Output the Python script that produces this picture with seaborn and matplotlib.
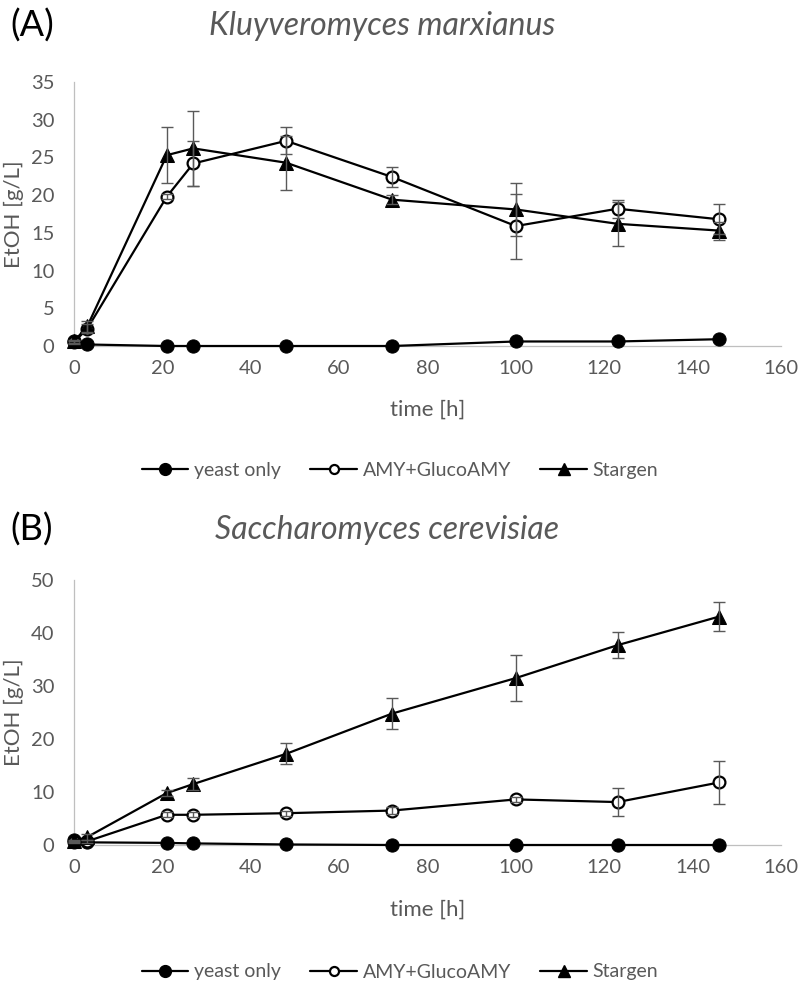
import matplotlib
matplotlib.use("Agg")
import matplotlib.pyplot as plt
import seaborn as sns
import pandas as pd
from matplotlib.lines import Line2D

sns.set_theme(style="white")
plt.rcParams['font.family'] = ['Lato', 'DejaVu Sans']

# ---- data ----
time_h = [0, 3, 21, 27, 48, 72, 100, 123, 146]
series_names = ["yeast only", "AMY+GlucoAMY", "Stargen"]

A_yeast = [0.7, 0.2, 0.0, 0.0, 0.0, 0.0, 0.6, 0.6, 0.9]
A_amy = [0.5, 2.3, 19.8, 24.2, 27.2, 22.4, 15.9, 18.2, 16.8]
A_amy_err = [0.2, 0.6, 0.3, 3.0, 1.8, 1.3, 4.3, 1.2, 2.0]
A_star = [0.6, 2.6, 25.3, 26.2, 24.3, 19.4, 18.1, 16.2, 15.3]
A_star_err = [0.2, 0.7, 3.7, 5.0, 3.6, 0.6, 3.5, 2.9, 1.2]

B_yeast = [0.9, 0.5, 0.4, 0.3, 0.1, 0.0, 0.0, 0.0, 0.0]
B_amy = [0.5, 0.7, 5.7, 5.7, 6.0, 6.5, 8.6, 8.1, 11.8]
B_amy_err = [0.2, 0.3, 0.5, 0.5, 0.5, 0.6, 0.5, 2.6, 4.0]
B_star = [0.7, 1.5, 9.8, 11.5, 17.2, 24.8, 31.5, 37.7, 43.1]
B_star_err = [0.2, 0.5, 0.6, 1.2, 2.0, 3.0, 4.3, 2.5, 2.7]

A_yticks = [0, 5, 10, 15, 20, 25, 30, 35]
B_yticks = [0, 10, 20, 30, 40, 50]
xticks = [0, 20, 40, 60, 80, 100, 120, 140, 160]

GRAY = "#595959"
SPINE = "#bfbfbf"

W, H = 799, 984
fig = plt.figure(figsize=(W / 100, H / 100), dpi=100)

marker_styles = {
    "yeast only": dict(marker="o", markersize=9.5, markerfacecolor="black", markeredgecolor="black"),
    "AMY+GlucoAMY": dict(marker="o", markersize=8.5, markerfacecolor="white", markeredgecolor="black", markeredgewidth=1.6),
    "Stargen": dict(marker="^", markersize=10, markerfacecolor="black", markeredgecolor="black"),
}


def panel(rect, yeast, amy, amy_err, star, star_err, ymax, yticks, xlab_y):
    ax = fig.add_axes(rect)
    values = {"yeast only": yeast, "AMY+GlucoAMY": amy, "Stargen": star}
    errs = {"AMY+GlucoAMY": amy_err, "Stargen": star_err}
    for name in series_names:
        df = pd.DataFrame({"t": time_h, "v": values[name]})
        sns.lineplot(data=df, x="t", y="v", ax=ax, color="black", linewidth=1.6,
                     clip_on=False, zorder=3, **marker_styles[name])
        if name in errs:
            ax.errorbar(time_h, values[name], yerr=errs[name], fmt="none",
                        ecolor=GRAY, elinewidth=1.0, capsize=4, capthick=1.0,
                        zorder=5, clip_on=False)
    ax.set_xlim(0, 160)
    ax.set_ylim(0, ymax)
    ax.set_xticks(xticks)
    ax.set_yticks(yticks)
    ax.tick_params(axis="both", length=0, labelsize=14.5, labelcolor=GRAY)
    ax.tick_params(axis="y", pad=14)
    ax.tick_params(axis="x", pad=10)
    for s in ["top", "right"]:
        ax.spines[s].set_visible(False)
    for s in ["left", "bottom"]:
        ax.spines[s].set_color(SPINE)
        ax.spines[s].set_linewidth(0.9)
    ax.set_xlabel("time [h]", fontsize=16, color=GRAY, va="center")
    ax.set_ylabel("EtOH [g/L]", fontsize=16, color=GRAY, va="center")
    ax.xaxis.set_label_coords(0.5, xlab_y)
    ax.yaxis.set_label_coords(-60 / 707, 0.5)
    ax.grid(False)
    ax.set_facecolor("white")
    return ax


axA = panel([74 / W, 1 - 346 / H, 707 / W, 264 / H],
            A_yeast, A_amy, A_amy_err, A_star, A_star_err, 35, A_yticks, -64 / 264)
axB = panel([74 / W, 1 - 845 / H, 707 / W, 265 / H],
            B_yeast, B_amy, B_amy_err, B_star, B_star_err, 50, B_yticks, -65 / 265)

# legends
handles = [
    Line2D([0], [0], color="black", linewidth=1.6, marker="o", markersize=8.5,
           markerfacecolor="black", markeredgecolor="black"),
    Line2D([0], [0], color="black", linewidth=1.6, marker="o", markersize=6.5,
           markerfacecolor="white", markeredgecolor="black", markeredgewidth=1.6),
    Line2D([0], [0], color="black", linewidth=1.6, marker="^", markersize=8.5,
           markerfacecolor="black", markeredgecolor="black"),
]
for yc in [470, 972]:
    fig.legend(handles, series_names, loc="center", bbox_to_anchor=(400 / W, 1 - yc / H),
               ncol=3, frameon=False, fontsize=14, labelcolor=GRAY,
               handlelength=2.4, handletextpad=0.3, columnspacing=1.5)

# titles
fig.text(10 / W, 1 - 26 / H, "(A)", fontsize=26, color="black", va="center", ha="left")
fig.text(382 / W, 1 - 26 / H, "Kluyveromyces marxianus", fontsize=23, color=GRAY,
         style="italic", va="center", ha="center")
fig.text(10 / W, 1 - 530 / H, "(B)", fontsize=26, color="black", va="center", ha="left")
fig.text(387 / W, 1 - 530 / H, "Saccharomyces cerevisiae", fontsize=23, color=GRAY,
         style="italic", va="center", ha="center")

fig.savefig("out.png", dpi=100, facecolor="white")
